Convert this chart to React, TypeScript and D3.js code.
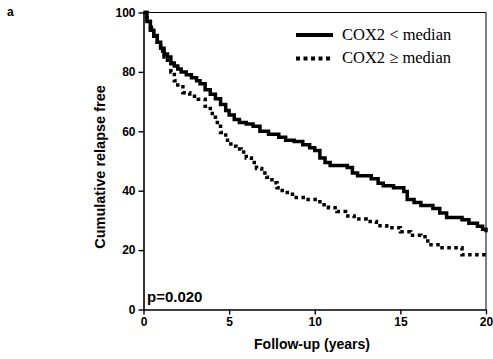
import React, { useRef, useEffect } from "react";
import * as d3 from "d3";

// Kaplan-Meier style step data
const lowTimes = [0, 0.2, 0.4, 0.6, 0.8, 1.0, 1.2, 1.4, 1.6, 1.8, 2.0, 2.2, 2.5, 2.8, 3.1, 3.3, 3.6, 3.9, 4.2, 4.5, 4.8, 5.0, 5.3, 5.6, 6.0, 6.4, 6.8, 7.3, 7.9, 8.3, 8.8, 9.3, 9.7, 10.0, 10.3, 10.6, 10.9, 11.9, 12.2, 12.5, 13.3, 13.7, 14.0, 14.6, 15.2, 15.4, 15.8, 16.2, 16.9, 17.3, 17.7, 18.6, 19.0, 19.5, 19.8, 20];
const lowSurv = [100, 97, 94, 92, 90, 88, 86, 85, 83, 82, 81, 80, 79, 78, 77, 76, 74, 72.5, 71, 69, 67, 65.5, 64, 63, 62.5, 61.7, 60, 59, 58, 57, 56.6, 55.5, 54.5, 53.5, 51, 49.5, 48.5, 47.8, 46, 45, 44, 42.5, 41.7, 41, 39.7, 37, 36, 35, 34, 32.5, 31, 30.2, 29, 28, 27, 26];

const highTimes = [0, 0.2, 0.4, 0.6, 0.8, 1.0, 1.2, 1.4, 1.6, 1.8, 2.0, 2.3, 2.7, 3.2, 3.6, 3.9, 4.2, 4.5, 4.8, 5.1, 5.4, 5.7, 6.0, 6.3, 6.6, 6.9, 7.2, 7.5, 7.8, 8.1, 8.7, 9.5, 10.3, 10.8, 11.3, 11.8, 12.3, 13.0, 13.6, 14.2, 15.0, 15.6, 16.2, 16.6, 17.3, 18.6, 20];
const highSurv = [100, 97, 95, 93, 90, 87, 85, 83, 80, 77, 75, 73, 71.8, 70.8, 68.4, 66, 63, 59.6, 57, 55, 54, 53, 51, 49.5, 47.5, 46, 44.5, 42.7, 41, 39.4, 37.7, 37, 35.3, 34.3, 33, 31.5, 30.5, 29.6, 28.2, 27.5, 26.2, 25, 24.5, 21.8, 20.8, 18.4, 17.7];

const xTicks = [0, 5, 10, 15, 20];
const yTicks = [0, 20, 40, 60, 80, 100];
const legendLabels = ["COX2 < median", "COX2 \u2265 median"];

export default function App() {
  const svgRef = useRef<SVGSVGElement>(null);

  useEffect(() => {
    document.body.style.margin = "0";
    const svg = d3.select(svgRef.current);
    svg.selectAll("*").remove();

    const left = 143.5, right = 486, top = 12.5, bottom = 309.5;
    const x = d3.scaleLinear().domain([0, 20]).range([left, right]);
    const y = d3.scaleLinear().domain([0, 100]).range([bottom, top]);
    const sans = "'Liberation Sans', Arial, sans-serif";

    // frame top and right
    svg.append("path")
      .attr("d", `M${left},${top}H${right}V${bottom}`)
      .attr("fill", "none")
      .attr("stroke", "black")
      .attr("stroke-width", 1);

    const line = d3.line<[number, number]>()
      .x(d => x(d[0]))
      .y(d => y(d[1]))
      .curve(d3.curveStepAfter);

    const lowData = lowTimes.map((t, i) => [t, lowSurv[i]] as [number, number]);
    const highData = highTimes.map((t, i) => [t, highSurv[i]] as [number, number]);

    svg.append("path")
      .datum(highData)
      .attr("d", line)
      .attr("fill", "none")
      .attr("stroke", "black")
      .attr("stroke-width", 3.5)
      .attr("stroke-dasharray", "3.5,3.5");

    svg.append("path")
      .datum(lowData)
      .attr("d", line)
      .attr("fill", "none")
      .attr("stroke", "black")
      .attr("stroke-width", 3.5);

    // axes
    const xAxis = svg.append("g")
      .attr("transform", `translate(0,${bottom})`)
      .call(d3.axisBottom(x).tickValues(xTicks).tickSize(5).tickSizeOuter(0).tickPadding(3));
    const yAxis = svg.append("g")
      .attr("transform", `translate(${left},0)`)
      .call(d3.axisLeft(y).tickValues(yTicks).tickSize(5).tickSizeOuter(0).tickPadding(3));

    [xAxis, yAxis].forEach(a => {
      a.select(".domain").attr("stroke-width", 1.6);
      a.selectAll(".tick line").attr("stroke-width", 1.4);
      a.selectAll("text")
        .attr("fill", "black")
        .style("font-family", sans)
        .style("font-size", "12px")
        .style("font-weight", "bold");
    });

    // axis titles
    svg.append("text")
      .attr("x", 312)
      .attr("y", 349)
      .attr("text-anchor", "middle")
      .style("font-family", sans)
      .style("font-size", "14px")
      .style("font-weight", "bold")
      .text("Follow-up (years)");

    svg.append("text")
      .attr("transform", `translate(105,167) rotate(-90)`)
      .attr("text-anchor", "middle")
      .style("font-family", sans)
      .style("font-size", "14.5px")
      .style("font-weight", "bold")
      .text("Cumulative relapse free");

    svg.append("text")
      .attr("x", 7)
      .attr("y", 16)
      .style("font-family", sans)
      .style("font-size", "12px")
      .style("font-weight", "bold")
      .text("a");

    svg.append("text")
      .attr("x", 147)
      .attr("y", 301.5)
      .style("font-family", sans)
      .style("font-size", "15px")
      .style("font-weight", "bold")
      .text("p=0.020");

    // legend
    const legend = svg.append("g");
    legendLabels.forEach((label, i) => {
      const ly = 35 + i * 23.5;
      legend.append("line")
        .attr("x1", 296).attr("x2", 333)
        .attr("y1", ly).attr("y2", ly)
        .attr("stroke", "black")
        .attr("stroke-width", 4)
        .attr("stroke-dasharray", i === 0 ? null : "4,3.5");
      legend.append("text")
        .attr("x", 342)
        .attr("y", ly + 4.5)
        .style("font-family", "'Liberation Serif', 'Times New Roman', serif")
        .style("font-size", "16.5px")
        .text(label);
    });
  }, []);

  return <svg ref={svgRef} width={493} height={359} style={{ display: "block" }}></svg>;
}
